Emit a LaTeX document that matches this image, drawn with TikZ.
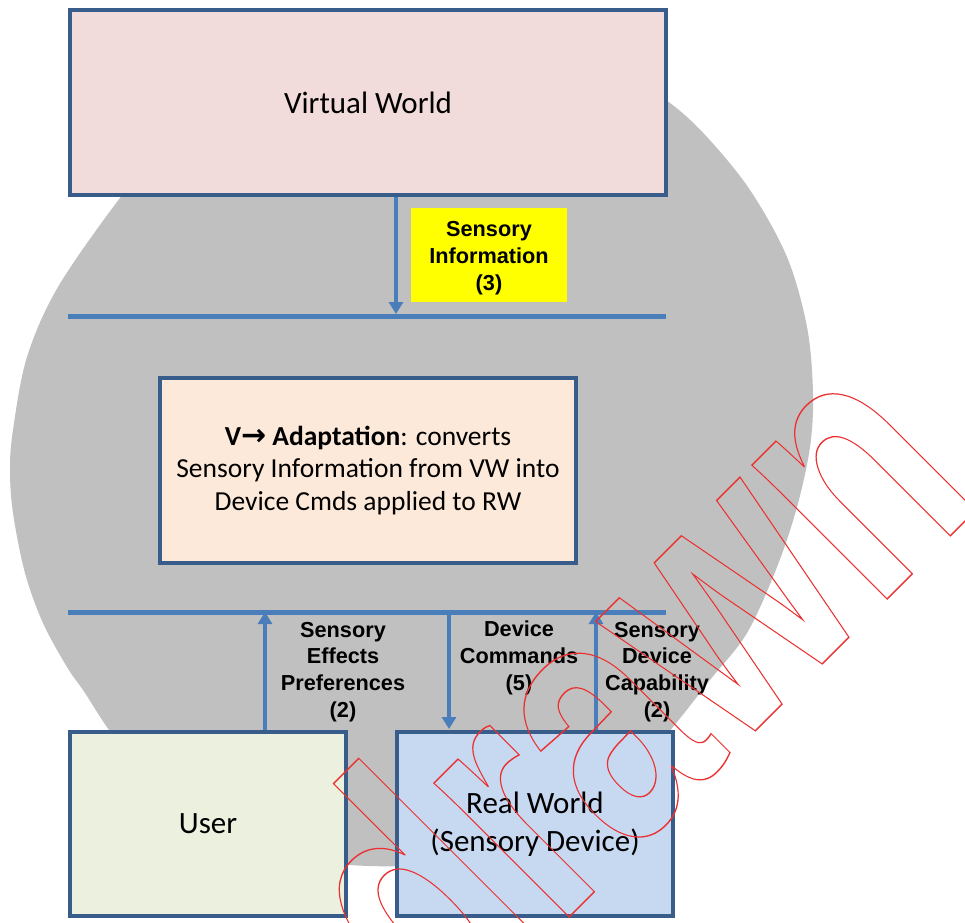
\documentclass[tikz,border=0pt]{standalone}
\usepackage{fontspec}
\setmainfont{Carlito}
\newfontfamily\labfont{Liberation Sans}
\newfontfamily\arrfont{DejaVu Sans}
\newfontfamily\wmfont{Liberation Sans}
\usetikzlibrary{arrows.meta}
\definecolor{circgray}{RGB}{192,192,192}
\definecolor{linkblue}{RGB}{74,126,187}
\definecolor{boxborder}{RGB}{56,93,138}
\definecolor{vwfill}{RGB}{242,220,219}
\definecolor{adfill}{RGB}{253,233,217}
\definecolor{userfill}{RGB}{235,241,222}
\definecolor{rwfill}{RGB}{198,217,241}
\definecolor{wmred}{RGB}{236,48,48}
\definecolor{labyellow}{RGB}{255,255,0}
\begin{document}
\begin{tikzpicture}[x=1pt,y=-1pt,
  box/.style={draw=boxborder, line width=4pt, inner sep=0pt, align=center,
    font=\fontsize{31}{38.5}\selectfont},
  bus/.style={linkblue, line width=5pt},
  link/.style={linkblue, line width=4pt, -{Triangle[length=12pt,width=14pt]}},
  lab/.style={inner sep=0pt, align=center,
    font=\labfont\bfseries\fontsize{21.7}{26.7}\selectfont}]
\useasboundingbox (0,0) rectangle (965,922);
\fill[white] (0,0) rectangle (965,922);
% grey disc
\fill[circgray] plot[smooth cycle, tension=0.55] coordinates {
  (120,198) (58,287) (27,357) (13,430) (10,470) (13,513) (25,573) (43,623)
  (67,667) (83,690) (125,750) (200,815) (290,855) (370,866) (450,860)
  (560,820) (640,765) (673,727) (710,680) (747,633) (777,567) (797,507)
  (810,447) (813,393) (807,327) (787,257) (750,190) (707,137) (670,103)
  (620,72) (550,50) (450,38) (350,50) (250,85) (170,140)};
% boxes
\node[box, fill=vwfill, minimum width=596pt, minimum height=185pt] (vw) at (368,102.5) {Virtual World};
\node[box, fill=adfill, minimum width=416pt, minimum height=185pt,
  font=\fontsize{27.5}{32.5}\selectfont] (ad) at (368,470.5)
  {{\bfseries V{\arrfont\bfseries\fontsize{30}{30}\selectfont →} Adaptation}: converts\\Sensory Information from VW into\\Device Cmds applied to RW};
\node[box, fill=userfill, minimum width=276pt, minimum height=184pt] (user) at (208,824) {User};
\node[box, fill=rwfill, minimum width=276pt, minimum height=184pt] (rw) at (535,824) {Real World\\(Sensory Device)};
% yellow label
\node[fill=labyellow, inner sep=0pt, minimum width=156pt, minimum height=94pt] (sibox) at (489,255) {};
\node[lab] (si) at (489,258) {Sensory\\Information\\(3)};
% buses
\coordinate (b1w) at (68,316);
\coordinate (b1e) at (666,316);
\coordinate (b2w) at (68,612);
\coordinate (b2e) at (666,612);
\draw[bus] (b1w) -- (b1e);
\draw[bus] (b2w) -- (b2e);
% arrows
\coordinate (t1) at (396,314);
\coordinate (t2) at (265,612);
\coordinate (t3) at (449,729);
\coordinate (s3) at (449,612);
\coordinate (t4) at (596,612);
\draw[link] (vw.south -| t1) -- (t1);
\draw[link] (user.north -| t2) -- (t2);
\draw[link] (s3) -- (t3);
\draw[link] (rw.north -| t4) -- (t4);
% labels
\node[lab] (sep) at (343,672) {Sensory\\Effects\\Preferences\\(2)};
\node[lab] (dc) at (519,658) {Device\\Commands\\(5)};
\node[lab] (sdc) at (657,672) {Sensory\\Device\\Capability\\(2)};
% watermark
\begin{scope}
\clip (0,0) rectangle (965,922);
\node[inner sep=0pt, anchor=base west, rotate=45, text=wmred] (wm) at (45,1441)
  {\wmfont\bfseries\fontsize{360}{360}\selectfont\scalebox{0.725}[1]{\special{pdf:literal direct 1 Tr 1.4 w}Withdrawn\special{pdf:literal direct 0 Tr}}};
\end{scope}
\end{tikzpicture}
\end{document}
